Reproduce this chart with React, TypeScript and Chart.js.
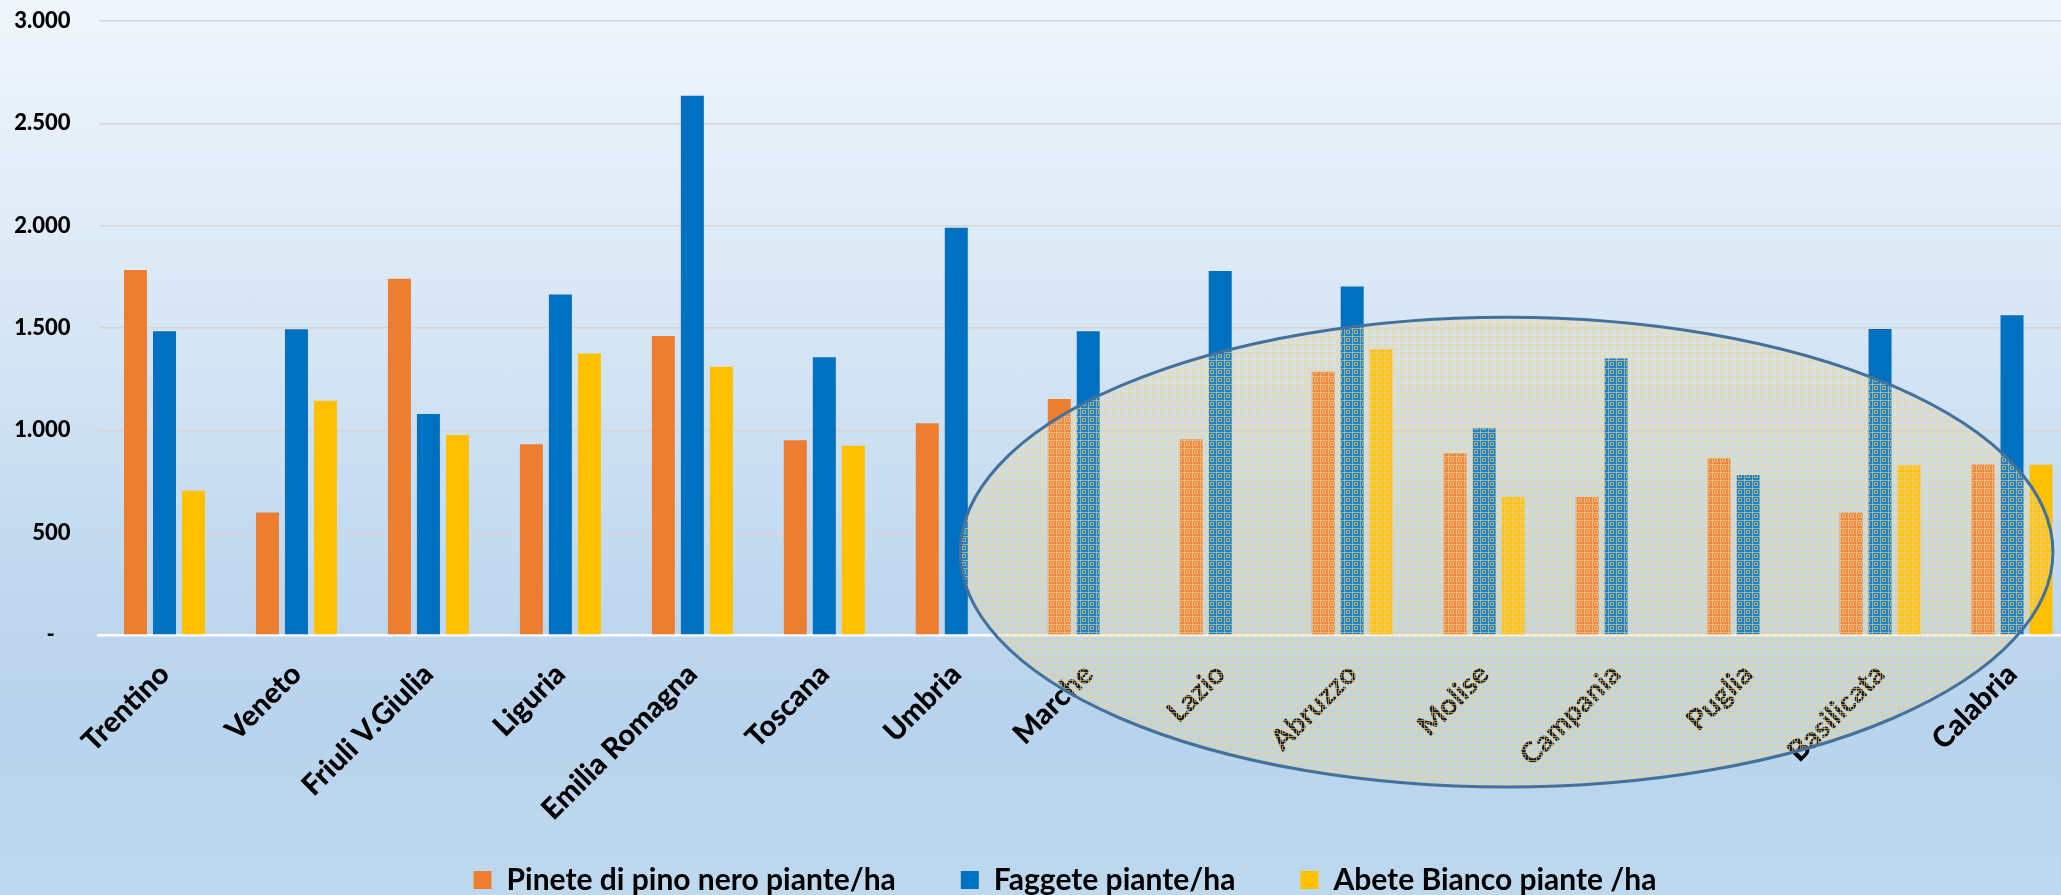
import React, { useEffect, useRef } from 'react';
import { Chart, registerables } from 'chart.js';

Chart.register(...registerables);

const categories = [
  'Trentino', 'Veneto', 'Friuli V.Giulia', 'Liguria', 'Emilia Romagna', 'Toscana', 'Umbria',
  'Marche', 'Lazio', 'Abruzzo', 'Molise', 'Campania', 'Puglia', 'Basilicata', 'Calabria',
];
const pineteValues = [1783, 598, 1741, 932, 1461, 951, 1035, 1153, 956, 1286, 888, 674, 863, 599, 834];
const faggeteValues = [1484, 1494, 1080, 1664, 2635, 1357, 1990, 1484, 1778, 1703, 1010, 1351, 782, 1495, 1562];
const abeteValues = [705, 1145, 977, 1375, 1311, 925, null, null, null, 1396, 674, null, null, 829, 832];
const seriesLabels = ['Pinete di pino nero piante/ha', 'Faggete piante/ha', 'Abete Bianco piante /ha'];
const seriesColors = ['#ED7D31', '#0070C0', '#FFC000'];
const yMin = 0;
const yMax = 3000;
const yStep = 500;

// highlight ellipse, expressed in axis units (category index / data value)
const ellipseCenterCategory = 10.17;
const ellipseHalfCategories = 4.14;
const ellipseCenterValue = 405;
const ellipseHalfValue = 1148;

const FONT = 'Lato, "Open Sans", sans-serif';
const CANVAS_W = 2078;
const CANVAS_H = 905;
const PLOT_TOP = 21;
const PLOT_LEFT = 98.5;
const PLOT_BOTTOM = 635;
const LEGEND_FONT = 30;
const LEGEND_PAD = 65;
const LEGEND_SHIFT = 26;

function formatTick(v: number): string {
  if (v === 0) return '-   ';
  return String(v).replace(/\B(?=(\d{3})+(?!\d))/g, '.');
}

function makePattern(ctx: CanvasRenderingContext2D): CanvasPattern | string {
  const tile = document.createElement('canvas');
  tile.width = 8;
  tile.height = 8;
  const g = tile.getContext('2d');
  if (!g) return 'rgba(240,212,140,0.3)';
  g.fillStyle = 'rgba(240, 212, 140, 0.58)';
  g.fillRect(0, 0, 8, 1);
  g.fillRect(0, 0, 1, 8);
  g.fillRect(2, 2, 4, 1);
  g.fillRect(2, 5, 4, 1);
  g.fillRect(2, 3, 1, 2);
  g.fillRect(5, 3, 1, 2);
  return ctx.createPattern(tile, 'repeat') || 'rgba(240,212,140,0.3)';
}

const layoutTweaks = {
  id: 'layoutTweaks',
  afterLayout(chart: any) {
    // let rotated category labels extend below the axis box instead of being clipped
    if (chart.scales.x) chart.scales.x.bottom = chart.height;
    if (chart.legend) {
      chart.legend.left += LEGEND_SHIFT;
      chart.legend.right += LEGEND_SHIFT;
    }
  },
};

const ellipsePlugin = {
  id: 'highlightEllipse',
  afterDraw(chart: any) {
    const { ctx } = chart;
    const x = chart.scales.x;
    const y = chart.scales.y;
    const cx = x.getPixelForValue(ellipseCenterCategory);
    const rx = x.getPixelForValue(ellipseCenterCategory + ellipseHalfCategories) - cx;
    const cy = y.getPixelForValue(ellipseCenterValue);
    const ry = cy - y.getPixelForValue(ellipseCenterValue + ellipseHalfValue);
    ctx.save();
    ctx.beginPath();
    ctx.ellipse(cx, cy, rx, ry, 0, 0, Math.PI * 2);
    ctx.fillStyle = 'rgba(222, 214, 176, 0.16)';
    ctx.fill();
    ctx.fillStyle = makePattern(ctx);
    ctx.fill();
    ctx.lineWidth = 3;
    ctx.strokeStyle = '#41719C';
    ctx.stroke();
    ctx.restore();
  },
};

export default function App() {
  const ref = useRef<HTMLCanvasElement>(null);

  useEffect(() => {
    if (!ref.current) return;
    const legendHeight = Math.max(LEGEND_FONT, 18) + LEGEND_PAD + 10;
    const chart = new Chart(ref.current, {
      type: 'bar',
      data: {
        labels: categories,
        datasets: [
          { label: seriesLabels[0], data: pineteValues, backgroundColor: seriesColors[0] },
          { label: seriesLabels[1], data: faggeteValues, backgroundColor: seriesColors[1] },
          { label: seriesLabels[2], data: abeteValues, backgroundColor: seriesColors[2] },
        ],
      },
      options: {
        responsive: false,
        animation: false,
        devicePixelRatio: 1,
        layout: { padding: { top: PLOT_TOP, left: 0, right: 0, bottom: 0 } },
        datasets: {
          bar: { categoryPercentage: 0.659, barPercentage: 0.793, borderWidth: 0 },
        },
        scales: {
          x: {
            offset: true,
            grid: { display: false },
            border: { display: true, color: '#FFFFFF', width: 2.5 },
            ticks: {
              autoSkip: false,
              minRotation: 45,
              maxRotation: 45,
              padding: 14,
              color: '#000000',
              font: { family: FONT, weight: '900', size: 29 },
            },
            afterFit: (s: any) => {
              s.height = CANVAS_H - legendHeight - PLOT_BOTTOM;
              s.paddingLeft = 0;
              s.paddingRight = 0;
            },
          },
          y: {
            min: yMin,
            max: yMax,
            border: { display: false },
            grid: {
              drawTicks: false,
              lineWidth: 1.5,
              color: (c: any) => (c.tick && c.tick.value === 0 ? 'rgba(0,0,0,0)' : '#D6D6D6'),
            },
            ticks: {
              stepSize: yStep,
              padding: 28,
              color: '#000000',
              font: { family: FONT, weight: '900', size: 22 },
              callback: (v: any) => formatTick(Number(v)),
            },
            afterFit: (s: any) => {
              s.width = PLOT_LEFT;
              s.paddingTop = 0;
              s.paddingBottom = 0;
            },
          },
        },
        plugins: {
          tooltip: { enabled: false },
          legend: {
            position: 'bottom',
            labels: {
              boxWidth: 18,
              boxHeight: 18,
              padding: LEGEND_PAD,
              color: '#000000',
              font: { family: FONT, weight: 'bold', size: LEGEND_FONT },
            },
          },
        },
      },
      plugins: [layoutTweaks, ellipsePlugin],
    } as any);
    return () => chart.destroy();
  }, []);

  return (
    <div
      style={{
        position: 'fixed',
        left: 0,
        top: 0,
        width: 2061,
        height: 895,
        overflow: 'hidden',
        background: 'linear-gradient(180deg, #F0F6FC 0%, #DCE9F6 30%, #C4DBF0 60%, #B8D3EC 80%, #BED8EE 100%)',
      }}
    >
      <canvas ref={ref} width={CANVAS_W} height={CANVAS_H} style={{ display: 'block', width: CANVAS_W, height: CANVAS_H }} />
    </div>
  );
}
